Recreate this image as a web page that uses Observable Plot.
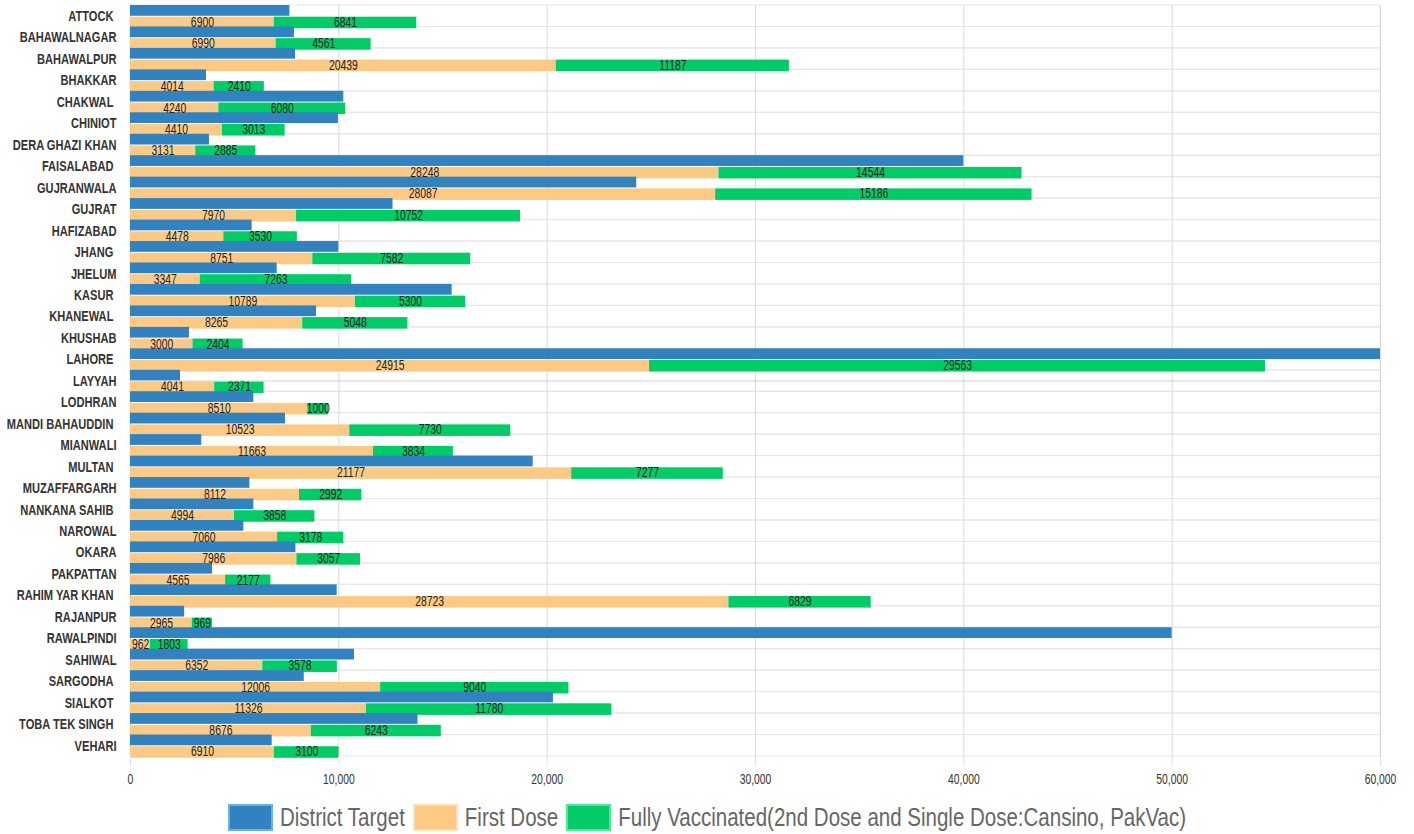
<!DOCTYPE html>
<html>
<head>
<meta charset="utf-8">
<script src="https://cdn.jsdelivr.net/npm/d3@7"></script>
<script src="https://cdn.jsdelivr.net/npm/@observablehq/plot@0.6"></script>
<style>
  html, body { margin: 0; padding: 0; background: #fff; }
  #chart svg { display: block; }
  .legend { display: flex; justify-content: center; align-items: center; height: 38px; padding-top: 2px;
    font-family: "Liberation Sans", Arial, sans-serif; font-size: 20.5px; color: #666; }
  .legend .item { display: flex; align-items: center; margin: 0 4px; }
  .legend .sw { width: 41px; height: 23px; margin-right: 7px; border: 2px solid; }
  .legend .lab { display: inline-block; transform: scaleY(1.22); }
</style>
</head>
<body>
<div id="chart"></div>
<div class="legend" id="legend"></div>
<script>
const districts = ["ATTOCK ", "BAHAWALNAGAR", "BAHAWALPUR", "BHAKKAR", "CHAKWAL ", "CHINIOT", "DERA GHAZI KHAN", "FAISALABAD ", "GUJRANWALA", "GUJRAT", "HAFIZABAD", "JHANG ", "JHELUM", "KASUR ", "KHANEWAL ", "KHUSHAB", "LAHORE ", "LAYYAH", "LODHRAN", "MANDI BAHAUDDIN ", "MIANWALI", "MULTAN ", "MUZAFFARGARH", "NANKANA SAHIB ", "NAROWAL", "OKARA", "PAKPATTAN", "RAHIM YAR KHAN ", "RAJANPUR", "RAWALPINDI", "SAHIWAL", "SARGODHA ", "SIALKOT ", "TOBA TEK SINGH ", "VEHARI"];
const districtTarget = [7650, 7870, 7920, 3650, 10240, 9980, 3790, 40000, 24300, 12600, 5840, 10000, 7040, 15440, 8930, 2830, 60000, 2400, 5920, 7440, 3420, 19330, 5730, 5920, 5440, 7940, 3940, 9920, 2600, 50000, 10750, 8340, 20300, 13800, 6800];
const firstDose = [6900, 6990, 20439, 4014, 4240, 4410, 3131, 28248, 28087, 7970, 4478, 8751, 3347, 10789, 8265, 3000, 24915, 4041, 8510, 10523, 11663, 21177, 8112, 4994, 7060, 7986, 4565, 28723, 2965, 962, 6352, 12006, 11326, 8676, 6910];
const fullyVaccinated = [6841, 4561, 11187, 2410, 6080, 3013, 2885, 14544, 15186, 10752, 3530, 7582, 7263, 5300, 5048, 2404, 29563, 2371, 1000, 7730, 3834, 7277, 2992, 3858, 3178, 3057, 2177, 6829, 969, 1803, 3578, 9040, 11780, 6243, 3100];
const xTicks = [0, 10000, 20000, 30000, 40000, 50000, 60000];
const seriesNames = ["District Target", "First Dose", "Fully Vaccinated(2nd Dose and Single Dose:Cansino, PakVac)"];
const seriesColors = ["#3182c0", "#fdca85", "#00cc66"];
const seriesBorders = ["#6cb0e0", "#fde0b5", "#55e49a"];

const targets = districts.map((d, i) => ({district: d, value: districtTarget[i]}));
const doses = districts.flatMap((d, i) => [
  {district: d, series: seriesNames[1], value: firstDose[i]},
  {district: d, series: seriesNames[2], value: fullyVaccinated[i]}
]);
const xMax = xTicks[xTicks.length - 1];
const font = '"Liberation Sans", Arial, sans-serif';

const chart = Plot.plot({
  width: 1414,
  height: 796,
  marginLeft: 130,
  marginRight: 34,
  marginTop: 5,
  marginBottom: 40,
  style: {fontFamily: font, background: "#fff"},
  x: {domain: [0, xMax], label: null},
  y: {domain: districts, padding: 0, round: false, label: null},
  color: {domain: seriesNames.slice(1), range: seriesColors.slice(1)},
  marks: [
    Plot.barX(districts, {x1: 0, x2: xMax, y: d => d, fill: "none", stroke: "#e6e6e6"}),
    Plot.gridX(xTicks, {stroke: "#dadada", strokeOpacity: 1}),
    Plot.barX(doses, Plot.stackX({x: "value", y: "district", fill: "series", insetTop: 11.7, insetBottom: -1.8})),
    Plot.barX(targets, {x: "value", y: "district", fill: seriesColors[0], insetTop: 0, insetBottom: 10.7}),
    Plot.textX(doses, Plot.stackX({x: "value", y: "district", z: "series", text: d => String(d.value), dy: 6, fontSize: 14, fill: "#222"})),
    Plot.ruleY([0], {y: null, x1: 0, x2: xMax, frameAnchor: "bottom", stroke: "#cfcfcf"}),
    Plot.axisX({ticks: xTicks, tickFormat: d3.format(","), tickSize: 10, tickPadding: 8, stroke: "#e3e3e3", fill: "#333", fontSize: 14, label: null}),
    Plot.axisY({tickSize: 0, tickPadding: 14, fontWeight: "bold", fontSize: 15, fill: "#333", label: null,
      tickFormat: d => d.replace(/ $/, "\u00a0")})
  ]
});

// condense all chart texts horizontally (the reference type is tall and narrow)
chart.querySelectorAll("text").forEach(t => {
  const xa = t.getAttribute("x");
  let x = 0;
  if (xa !== null && !isNaN(+xa)) { x = +xa; t.removeAttribute("x"); }
  const tr = t.getAttribute("transform") || "";
  t.setAttribute("transform", `${tr} translate(${x},0) scale(0.74,1)`);
});
document.getElementById("chart").appendChild(chart);

const legend = document.getElementById("legend");
seriesNames.forEach((name, i) => {
  const item = document.createElement("div");
  item.className = "item";
  const sw = document.createElement("span");
  sw.className = "sw";
  sw.style.background = seriesColors[i];
  sw.style.borderColor = seriesBorders[i];
  const label = document.createElement("span");
  label.className = "lab";
  label.textContent = name;
  item.appendChild(sw);
  item.appendChild(label);
  legend.appendChild(item);
});
</script>
</body>
</html>
